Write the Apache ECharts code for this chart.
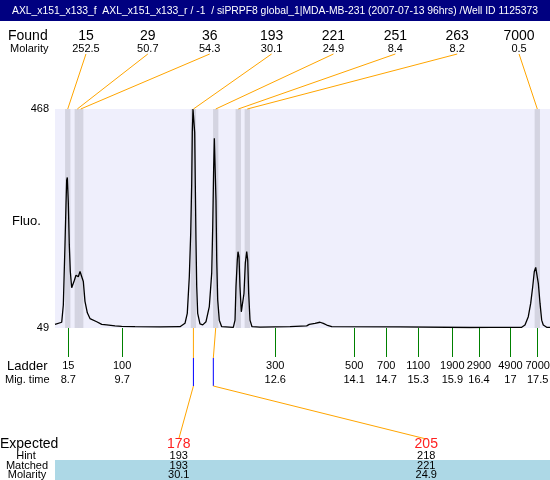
<!DOCTYPE html>
<html><head><meta charset="utf-8">
<script src="https://cdn.jsdelivr.net/npm/echarts@6/dist/echarts.min.js"></script>
<style>html,body{margin:0;padding:0;background:#fff}#c{width:550px;height:480px}</style>
</head><body><div id="c"></div>
<script>
const titleText = 'AXL_x151_x133_f  AXL_x151_x133_r / -1  / siPRPF8 global_1|MDA-MB-231 (2007-07-13 96hrs) /Well ID 1125373';
const foundSizes = ['15','29','36','193','221','251','263','7000'];
const foundMolarity = ['252.5','50.7','54.3','30.1','24.9','8.4','8.2','0.5'];
const foundTimes = [8.69, 8.869, 8.933, 11.046, 11.464, 11.887, 12.056, 17.493];
const ladderSizes = ['15','100','300','500','700','1100','1900','2900','4900','7000'];
const ladderTimeLabels = ['8.7','9.7','12.6','14.1','14.7','15.3','15.9','16.4','17','17.5'];
const ladderTimes = [8.70, 9.71, 12.58, 14.06, 14.66, 15.26, 15.90, 16.40, 16.99, 17.50];
const expectedSizes = ['178','205'];
const hintSizes = ['193','218'];
const matchedSizes = ['193','221'];
const matchedMolarity = ['30.1','24.9'];
const matchedTimes = [11.046, 11.464];
const hintTimes = [11.046, 11.419];
const traceTime = [8.451,8.577,8.607,8.638,8.657,8.670,8.682,8.700,8.719,8.738,8.764,8.783,8.813,8.845,8.869,8.888,8.920,8.944,8.982,9.013,9.057,9.107,9.233,9.327,9.420,9.576,9.701,9.951,10.420,10.794,10.888,10.931,10.969,10.995,11.014,11.025,11.038,11.057,11.070,11.081,11.094,11.108,11.126,11.169,11.220,11.282,11.344,11.389,11.408,11.426,11.438,11.456,11.469,11.483,11.501,11.531,11.576,11.794,11.826,11.844,11.869,11.882,11.901,11.919,11.944,11.962,11.994,12.019,12.045,12.064,12.082,12.107,12.144,12.294,12.857,12.875,13.170,13.219,13.325,13.419,13.481,13.545,13.639,14.919,16.231,16.606,17.200,17.262,17.324,17.369,17.407,17.437,17.463,17.487,17.512,17.544,17.575,17.605,17.669,17.731];
const traceFluo = [56,60,93,208,284,332,337,291,208,157,126,125,140,150,152,147,157,158,138,100,78,67,61,56,55,53,52,51.5,51,51.5,58,77,147,230,326,423,468,468,423,326,217,128,77,57,55,61,90,154,243,358,412,412,294,179,103,64,51.5,50.3,64,128,179,195,185,128,80,77,115,173,195,179,115,64,51.5,50.5,51.5,53,53,56,58,60,58,54.7,51.5,51,50,50.3,50.3,54.7,70.6,96,128,157,165,163,134.5,96,64,54.7,50.3,50.3];

const FONT = 'Arial, "Liberation Sans", sans-serif';
const chart = echarts.init(document.getElementById('c'), null, {renderer: 'canvas'});
const GL = 55, GT = 109, GW = 495, GH = 219;
chart.setOption({
  animation: false,
  backgroundColor: '#ffffff',
  grid: {left: GL, top: GT, width: GW, height: GH, show: true, backgroundColor: '#EFEFFC', borderWidth: 0, containLabel: false, outerBoundsMode: 'none'},
  xAxis: {
    type: 'value', min: 8.451, max: 17.731,
    axisLine: {show: false}, splitLine: {show: false},
    axisTick: {show: true, customValues: ladderTimes, length: 29, lineStyle: {color: '#008000', width: 1}},
    axisLabel: {
      show: true, customValues: ladderTimes, margin: 31,
      formatter: function (v) {
        let i = ladderTimes.indexOf(v);
        if (i < 0) { i = ladderTimes.findIndex(t => Math.abs(t - v) < 1e-6); }
        if (i < 0) return '';
        return '{s|' + ladderSizes[i] + '}\n{t|' + ladderTimeLabels[i] + '}';
      },
      rich: {
        s: {fontSize: 11, fontFamily: FONT, color: '#000', lineHeight: 14},
        t: {fontSize: 11, fontFamily: FONT, color: '#000', lineHeight: 14}
      },
      hideOverlap: false
    }
  },
  yAxis: {
    type: 'value', min: 49, max: 468,
    axisLine: {show: false}, splitLine: {show: false}, axisTick: {show: false},
    axisLabel: {customValues: [49, 468], fontSize: 11, fontFamily: FONT, color: '#000', margin: 6}
  },
  series: [{
    type: 'line', showSymbol: false, symbol: 'none',
    data: traceTime.map((t, i) => [t, traceFluo[i]]),
    lineStyle: {color: '#000', width: 1.3},
    clip: true, z: 3,
    markArea: {
      silent: true,
      itemStyle: {color: '#D4D4E1'},
      data: foundTimes.map(t => [{xAxis: t - 0.05}, {xAxis: t + 0.05}])
    }
  }]
});

const px = t => chart.convertToPixel({gridIndex: 0}, [t, 49])[0];
const gBottom = GT + GH;
const slot = (i, n) => GL + (i + 0.5) * GW / n;
const g = [];
function txt(x, y, s, size, align, color, extra) {
  const el = {type: 'text', x: x, y: y, style: {text: s, font: size + 'px ' + FONT, fill: color || '#000', align: align || 'center', verticalAlign: 'middle'}, z: 10};
  if (extra) Object.assign(el, extra);
  g.push(el);
}
function ln(x1, y1, x2, y2, color) {
  g.push({type: 'line', shape: {x1: x1, y1: y1, x2: x2, y2: y2}, style: {stroke: color, lineWidth: 1}, z: 9});
}
// title bar
const mctx = document.createElement('canvas').getContext('2d');
mctx.font = '11px ' + FONT;
const tw = mctx.measureText(titleText).width;
const tScale = Math.min(1, 526 / tw);
g.push({type: 'rect', shape: {x: 0, y: 0, width: 550, height: 21}, style: {fill: '#000080'}, z: 8});
txt(275, 10.5, titleText, 11, 'center', '#fff', {scaleX: tScale, originX: 0, originY: 0});
// found row
txt(8, 36, 'Found', 14, 'left');
txt(10, 49, 'Molarity', 11, 'left');
foundSizes.forEach((s, i) => {
  const sx = slot(i, foundSizes.length);
  txt(sx, 36, s, 14);
  txt(sx, 49, foundMolarity[i], 11);
  ln(sx, 54, px(foundTimes[i]), GT, '#FFA500');
});
txt(12, 221, 'Fluo.', 13, 'left');
txt(7, 366, 'Ladder', 13, 'left');
txt(5, 380, 'Mig. time', 11, 'left');
// bottom matching links
const yA = gBottom + 30, yB = gBottom + 58, yE = 439;
expectedSizes.forEach((s, i) => {
  const ex = slot(i, expectedSizes.length);
  const mx = px(matchedTimes[i]), hx = px(hintTimes[i]);
  ln(mx, gBottom, hx, yA, '#FFA500');
  ln(hx, yA, hx, yB, '#0000FF');
  ln(hx, yB, ex, yE, '#FFA500');
});
// table
g.push({type: 'rect', shape: {x: GL, y: 460, width: GW, height: 20}, style: {fill: '#ADD8E6'}, z: 8});
txt(0, 444, 'Expected', 14, 'left');
txt(26, 455.5, 'Hint', 11);
txt(27, 465.5, 'Matched', 11);
txt(27, 474.5, 'Molarity', 11);
expectedSizes.forEach((s, i) => {
  const ex = slot(i, expectedSizes.length);
  txt(ex, 444, s, 14, 'center', '#FF2020');
  txt(ex, 455.5, hintSizes[i], 11);
  txt(ex, 465.5, matchedSizes[i], 11);
  txt(ex, 474.5, matchedMolarity[i], 11);
});
chart.setOption({graphic: g});
</script>
</body></html>
